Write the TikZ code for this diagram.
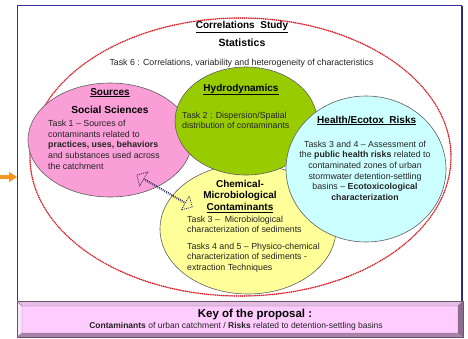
\documentclass[tikz,border=0pt]{standalone}
\usepackage{fontspec}
\setmainfont{Liberation Sans}
\usetikzlibrary{shapes.geometric,shapes.arrows,arrows.meta}

\definecolor{frameblue}{RGB}{48,48,150}
\definecolor{dotred}{RGB}{218,35,45}
\definecolor{srcpink}{RGB}{250,158,216}
\definecolor{hydgreen}{RGB}{153,204,0}
\definecolor{riskcyan}{RGB}{204,255,255}
\definecolor{chemyellow}{RGB}{255,255,153}
\definecolor{keypink}{RGB}{255,204,255}
\definecolor{keytop}{RGB}{228,188,228}
\definecolor{keyleft}{RGB}{252,230,252}
\definecolor{keyright}{RGB}{140,108,140}
\definecolor{keybottom}{RGB}{168,130,168}
\definecolor{keyedge}{RGB}{105,85,105}
\definecolor{keyinner}{RGB}{150,120,150}
\definecolor{arroworange}{RGB}{245,150,35}
\definecolor{edgegrey}{RGB}{95,95,95}
\definecolor{linknavy}{RGB}{45,45,95}
\definecolor{bodytext}{RGB}{35,35,35}

% text blocks whose baseline is that of their first line
\newcommand{\leftblock}[2]{\parbox[t]{#1}{\raggedright #2}}
\newcommand{\centreblock}[2]{\parbox[t]{#1}{\centering #2}}

\tikzset{
  bubble/.style={ellipse, draw=edgegrey, line width=0.6pt, inner sep=0pt},
  head/.style={inner sep=0pt, anchor=base, font=\bfseries\fontsize{10}{11.7}\selectfont},
  body/.style={inner sep=0pt, anchor=base west, text=bodytext, font=\fontsize{8.8}{10.7}\selectfont},
  cbody/.style={body, anchor=base},
  studyring/.style={ellipse, draw=dotred, line width=1.8pt, dash pattern=on 0pt off 1.9pt,
    line cap=round, inner sep=0pt},
  linkarrow/.style={double arrow, draw=linknavy, line width=0.8pt, dash pattern=on 1pt off 1pt,
    inner sep=0pt, double arrow head extend=4.5pt},
  feed/.style={arroworange, line width=3.6pt, -{Triangle[length=8pt,width=10pt]}},
}

\begin{document}
\begin{tikzpicture}[x=1pt,y=-1pt]
\useasboundingbox (0,0) rectangle (468,338);
\fill[white] (0,0) rectangle (468,338);

% outer frame
\draw[frameblue, line width=1.2pt] (17.5,5.5) rectangle (461.5,304);
\draw[frameblue!75!black, line width=1.4pt] (462.3,5.5) -- (462.3,304);

% incoming arrow on the left
\coordinate (feedstart) at (0,177);
\coordinate (feedend) at (17,177);
\draw[feed] (feedstart) -- (feedend);

% correlations study ring
\node[studyring, minimum width=421pt, minimum height=278pt] (study) at (240.5,157) {};

% the four disciplines
\node[bubble, fill=chemyellow, minimum width=176pt, minimum height=130pt] (chem) at (248,229) {};
\node[bubble, fill=srcpink, minimum width=164pt, minimum height=114pt] (src) at (110,140) {};
\node[bubble, fill=hydgreen, minimum width=142pt, minimum height=108pt] (hyd) at (246,121) {};
\node[bubble, fill=riskcyan, minimum width=160pt, minimum height=146pt] (risk) at (366,169) {};

% link between sources and contaminants
\node[linkarrow, minimum height=64pt, minimum width=16pt, rotate=-30] (link) at (164.5,191) {};

% correlations study texts
\node[head] (studytitle) at (242,28.5) {\underline{Correlations\ \ Study}};
\node[head, font=\bfseries\fontsize{10.5}{12}\selectfont] (stats) at (242,46.5) {Statistics};
\node[cbody] (task6) at (241.5,65) {Task 6 : Correlations, variability and heterogeneity of characteristics};

% sources
\node[head] (srctitle) at (110,95) {\underline{Sources}};
\node[head, font=\bfseries\fontsize{10.2}{12}\selectfont] (social) at (110,113.5) {Social Sciences};
\node[body] (srctext) at (48,126.5) {\leftblock{140pt}{Task 1 -- Sources of\\
contaminants related to\\
\textbf{practices, uses, behaviors}\\
and substances used across\\
the catchment}};

% hydrodynamics
\node[head] (hydtitle) at (241,91) {\underline{Hydrodynamics}};
\node[body] (hydtext) at (182,118.2) {\leftblock{140pt}{Task 2 : Dispersion/Spatial\\
distribution of contaminants}};

% health and ecotoxicological risks
\node[head] (risktitle) at (366.7,123) {\underline{Health/Ecotox\ \ Risks}};
\node[cbody] (risktext) at (365,147) {\centreblock{150pt}{Tasks 3 and 4 -- Assessment of\\
the \textbf{public health risks} related to\\
contaminated zones of urban\\
stormwater detention-settling\\
basins -- \textbf{Ecotoxicological}\\
\textbf{characterization}}};

% chemical and microbiological contaminants
\node[head, anchor=base] (chemtitle) at (240,187) {\centreblock{120pt}{Chemical-\\
Microbiological\\
\underline{Contaminants}}};
\node[body] (chemtext) at (187,222.2) {\leftblock{160pt}{Task 3 --\ \ Microbiological\\
characterization of sediments\\[5.4pt]
Tasks 4 and 5 -- Physico-chemical\\
characterization of sediments -\\
extraction Techniques}};

% key of the proposal, bevelled panel
\fill[keypink] (22,306) rectangle (458,333);
\fill[keytop] (17,301) -- (463,301) -- (458,306) -- (22,306) -- cycle;
\fill[keyleft] (17,301) -- (22,306) -- (22,333) -- (17,337) -- cycle;
\fill[keyright] (463,301) -- (463,337) -- (458,333) -- (458,306) -- cycle;
\fill[keybottom] (17,337) -- (463,337) -- (458,333) -- (22,333) -- cycle;
\draw[keyedge, line width=0.6pt] (17,301) rectangle (463,337);
\draw[keyinner, line width=0.4pt] (22,306) rectangle (458,333)
  (17,301) -- (22,306) (463,301) -- (458,306) (17,337) -- (22,333) (463,337) -- (458,333);
\node[head, font=\bfseries\fontsize{11.5}{13}\selectfont] (keytitle) at (255,317.5) {Key of the proposal :};
\node[cbody, font=\fontsize{8.5}{10}\selectfont] (keytext) at (236,328.3)
  {\textbf{Contaminants} of urban catchment / \textbf{Risks} related to detention-settling basins};
\end{tikzpicture}
\end{document}
